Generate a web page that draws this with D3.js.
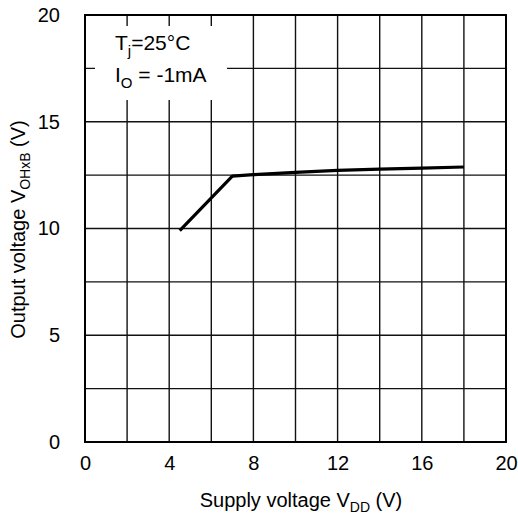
<!DOCTYPE html>
<html>
<head>
<meta charset="utf-8">
<script src="https://cdn.jsdelivr.net/npm/d3@7"></script>
<style>
  html, body { margin: 0; padding: 0; background: #fff; }
  svg { display: block; }
  text { font-family: "Liberation Sans", Arial, sans-serif; fill: #000; }
</style>
</head>
<body>
<svg id="chart" width="518" height="517"></svg>
<script>
// Supply voltage (V) and output voltage (V) of the characteristic curve
const supplyVoltage = [4.5, 7.0, 8.0, 10.0, 12.0, 14.0, 16.0, 18.0];
const outputVoltage = [9.9, 12.45, 12.52, 12.63, 12.72, 12.78, 12.83, 12.88];

const xTicks = [0, 4, 8, 12, 16, 20];
const yTicks = [0, 5, 10, 15, 20];
const xGrid = [2, 4, 6, 8, 10, 12, 14, 16, 18];
const yGrid = [2.5, 5, 7.5, 10, 12.5, 15, 17.5];

const svg = d3.select("#chart");
const plotL = 85, plotR = 506, plotT = 15, plotB = 442;

const x = d3.scaleLinear().domain([0, 20]).range([plotL, plotR]);
const y = d3.scaleLinear().domain([0, 20]).range([plotB, plotT]);

// grid
const grid = svg.append("g").attr("stroke", "#111").attr("stroke-width", 1.4);
grid.selectAll("line.v").data(xGrid).join("line")
  .attr("class", "v")
  .attr("x1", d => x(d)).attr("x2", d => x(d))
  .attr("y1", plotT).attr("y2", plotB);
grid.selectAll("line.h").data(yGrid).join("line")
  .attr("class", "h")
  .attr("x1", plotL).attr("x2", plotR)
  .attr("y1", d => y(d)).attr("y2", d => y(d));

// frame
svg.append("rect")
  .attr("x", plotL).attr("y", plotT)
  .attr("width", plotR - plotL).attr("height", plotB - plotT)
  .attr("fill", "none").attr("stroke", "#000").attr("stroke-width", 2);

// curve
const line = d3.line().x((d, i) => x(supplyVoltage[i])).y(d => y(d));
svg.append("path")
  .datum(outputVoltage)
  .attr("d", line)
  .attr("fill", "none")
  .attr("stroke", "#000")
  .attr("stroke-width", 3.2)
  .attr("stroke-linejoin", "round");

// tick labels
const fs = 20;
const xAxis = d3.axisBottom(x).tickValues(xTicks).tickSize(0).tickPadding(14);
const gx = svg.append("g").attr("transform", `translate(0,${plotB})`).call(xAxis);
gx.select(".domain").remove();
gx.selectAll("text").style("font-size", fs + "px").style("font-family", "Liberation Sans, Arial, sans-serif").attr("fill", "#000");

const yAxis = d3.axisLeft(y).tickValues(yTicks).tickSize(0).tickPadding(25);
const gy = svg.append("g").attr("transform", `translate(${plotL},0)`).call(yAxis);
gy.select(".domain").remove();
gy.selectAll("text").style("font-size", fs + "px").style("font-family", "Liberation Sans, Arial, sans-serif").attr("fill", "#000");

// x title
const xt = svg.append("text")
  .attr("x", 301).attr("y", 507)
  .attr("text-anchor", "middle")
  .style("font-size", "20px");
xt.append("tspan").text("Supply voltage V");
xt.append("tspan").attr("dy", 5).style("font-size", "14px").text("DD");
xt.append("tspan").attr("dy", -5).text(" (V)");

// y title
const yt = svg.append("text")
  .attr("transform", `translate(25,${(plotT + plotB) / 2 + 1}) rotate(-90)`)
  .attr("text-anchor", "middle")
  .style("font-size", "20px");
yt.append("tspan").text("Output voltage V");
yt.append("tspan").attr("dy", 5).style("font-size", "14px").text("OHxB");
yt.append("tspan").attr("dy", -5).text(" (V)");

// condition box
svg.append("rect")
  .attr("x", 95).attr("y", 26).attr("width", 132).attr("height", 74)
  .attr("fill", "#fff");
const t1 = svg.append("text").attr("x", 115).attr("y", 50).style("font-size", "21px");
t1.append("tspan").text("T");
t1.append("tspan").attr("dy", 6).style("font-size", "15px").text("j");
t1.append("tspan").attr("dy", -6).text("=25°C");
const t2 = svg.append("text").attr("x", 115).attr("y", 82).style("font-size", "21px");
t2.append("tspan").text("I");
t2.append("tspan").attr("dy", 6).style("font-size", "15px").text("O");
t2.append("tspan").attr("dy", -6).text(" = -1mA");
</script>
</body>
</html>
